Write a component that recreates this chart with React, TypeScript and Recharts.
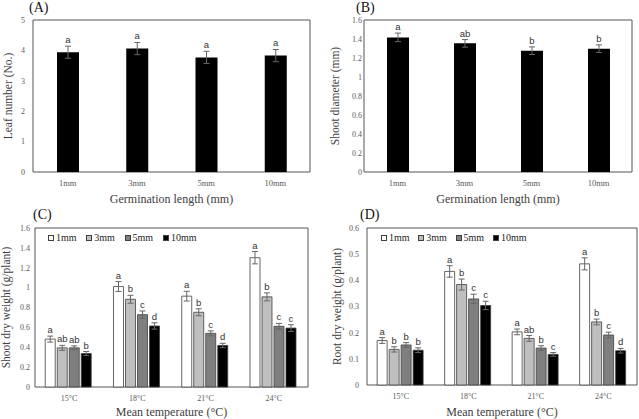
import React from 'react';
import { BarChart, Bar, XAxis, YAxis, ErrorBar, LabelList, ReferenceArea, Legend } from 'recharts';

const SERIF = '"Liberation Serif", "Times New Roman", serif';
const SANS = '"Liberation Sans", Arial, sans-serif';
const TICK_COLOR = '#595959';
const TITLE_COLOR = '#404040';
const BOX_COLOR = '#555555';

// (A) leaf number and (B) shoot diameter by germination length
const lengths = ['1mm', '3mm', '5mm', '10mm'];
const leafNumber = [3.94, 4.06, 3.77, 3.83];
const leafNumberErr = [0.2, 0.2, 0.2, 0.2];
const leafNumberLetters = ['a', 'a', 'a', 'a'];
const leafTicks = [0, 1, 2, 3, 4, 5];

const shootDiameter = [1.417, 1.354, 1.277, 1.298];
const shootDiameterErr = [0.045, 0.04, 0.04, 0.04];
const shootDiameterLetters = ['a', 'ab', 'b', 'b'];
const diameterTicks = [0, 0.2, 0.4, 0.6, 0.8, 1, 1.2, 1.4, 1.6];

// (C) shoot dry weight and (D) root dry weight by mean temperature
const temps = ['15°C', '18°C', '21°C', '24°C'];
const seriesNames = ['1mm', '3mm', '5mm', '10mm'];
const seriesFills = ['#ffffff', '#bfbfbf', '#7f7f7f', '#000000'];

const shootDry1mm = [0.482, 1.011, 0.914, 1.301];
const shootDry3mm = [0.394, 0.883, 0.752, 0.907];
const shootDry5mm = [0.394, 0.728, 0.54, 0.611];
const shootDry10mm = [0.337, 0.614, 0.418, 0.593];
const shootDry1mmErr = [0.03, 0.05, 0.049, 0.062];
const shootDry3mmErr = [0.025, 0.04, 0.035, 0.04];
const shootDry5mmErr = [0.02, 0.037, 0.025, 0.029];
const shootDry10mmErr = [0.02, 0.032, 0.022, 0.034];
const shootDry1mmLetters = ['a', 'a', 'a', 'a'];
const shootDry3mmLetters = ['ab', 'b', 'b', 'b'];
const shootDry5mmLetters = ['ab', 'c', 'c', 'c'];
const shootDry10mmLetters = ['b', 'd', 'd', 'c'];
const shootDryTicks = [0, 0.2, 0.4, 0.6, 0.8, 1, 1.2, 1.4, 1.6];

const rootDry1mm = [0.17, 0.434, 0.203, 0.463];
const rootDry3mm = [0.136, 0.384, 0.178, 0.241];
const rootDry5mm = [0.153, 0.329, 0.141, 0.191];
const rootDry10mm = [0.133, 0.304, 0.117, 0.131];
const rootDry1mmErr = [0.011, 0.022, 0.011, 0.023];
const rootDry3mmErr = [0.01, 0.021, 0.011, 0.011];
const rootDry5mmErr = [0.009, 0.018, 0.009, 0.011];
const rootDry10mmErr = [0.009, 0.016, 0.007, 0.009];
const rootDry1mmLetters = ['a', 'a', 'a', 'a'];
const rootDry3mmLetters = ['b', 'b', 'ab', 'b'];
const rootDry5mmLetters = ['b', 'c', 'b', 'c'];
const rootDry10mmLetters = ['b', 'c', 'c', 'd'];
const rootDryTicks = [0, 0.1, 0.2, 0.3, 0.4, 0.5, 0.6];

// letter sits just above the error bar; bar height / value gives px per unit
const makeLetter = (letters: string[], errs: number[]) => (props: any) => {
  const x = Number(props.x);
  const y = Number(props.y);
  const w = Number(props.width);
  const h = Number(props.height);
  const v = Number(props.value);
  const i = props.index;
  const errPx = v ? (errs[i] * h) / v : 0;
  return (
    <text
      key={`l-${i}`}
      x={x + w / 2}
      y={y - errPx - 3}
      textAnchor="middle"
      fontSize={9.5}
      fill="#333"
      fontFamily={SANS}
    >
      {letters[i]}
    </text>
  );
};

const PanelTitle = ({ text, left, top }: { text: string; left: number; top: number }) => (
  <div
    style={{
      position: 'absolute',
      left,
      top,
      fontFamily: SERIF,
      fontSize: 14,
      lineHeight: '14px',
      color: '#111',
    }}
  >
    {text}
  </div>
);

interface SingleProps {
  left: number;
  top: number;
  width: number;
  height: number;
  plotTop: number;
  plotRight: number;
  yWidth: number;
  xHeight: number;
  tickGap: number;
  values: number[];
  errs: number[];
  letters: string[];
  ticks: number[];
  yLabel: string;
  yLabelOffset: number;
  xLabel: string;
  xLabelOffset: number;
}

function SinglePanel(p: SingleProps) {
  const data = lengths.map((name, i) => ({ name, value: p.values[i], err: p.errs[i] }));
  const max = p.ticks[p.ticks.length - 1];
  return (
    <div style={{ position: 'absolute', left: p.left, top: p.top }}>
      <BarChart
        width={p.width}
        height={p.height}
        data={data}
        margin={{ top: p.plotTop, right: p.plotRight, left: 0, bottom: 0 }}
      >
        <XAxis
          dataKey="name"
          height={p.xHeight}
          tickLine={false}
          axisLine={false}
          tick={{ fontSize: 8.5, fill: TICK_COLOR, fontFamily: SERIF }}
          label={{
            value: p.xLabel,
            position: 'insideBottom',
            offset: p.xLabelOffset,
            style: { fontSize: 12, fill: TITLE_COLOR, fontFamily: SERIF },
          }}
        />
        <YAxis
          width={p.yWidth}
          domain={[0, max]}
          ticks={p.ticks}
          tickLine={false}
          axisLine={false}
          tickSize={0}
          tickMargin={p.tickGap}
          tick={{ fontSize: 8, fill: TICK_COLOR, fontFamily: SERIF }}
          label={{
            value: p.yLabel,
            angle: -90,
            position: 'insideLeft',
            offset: p.yLabelOffset,
            style: { fontSize: 11.5, fill: TITLE_COLOR, fontFamily: SERIF, textAnchor: 'middle' },
          }}
        />
        <Bar dataKey="value" fill="#000" barSize={22} isAnimationActive={false}>
          <ErrorBar dataKey="err" direction="y" width={3} stroke="#666" strokeWidth={1} />
          <LabelList dataKey="value" content={makeLetter(p.letters, p.errs)} />
        </Bar>
        <ReferenceArea y1={0} y2={max} fill="none" stroke={BOX_COLOR} strokeWidth={1} fillOpacity={0} />
      </BarChart>
    </div>
  );
}

interface GroupedProps {
  left: number;
  top: number;
  width: number;
  height: number;
  plotTop: number;
  plotRight: number;
  yWidth: number;
  xHeight: number;
  tickGap: number;
  series: number[][];
  errs: number[][];
  letters: string[][];
  ticks: number[];
  yLabel: string;
  yLabelOffset: number;
  xLabel: string;
  xLabelOffset: number;
  legendLeft: number;
  legendTop: number;
  legendItemWidth: number;
}

function GroupedPanel(p: GroupedProps) {
  const data = temps.map((name, i) => {
    const row: Record<string, string | number> = { name };
    seriesNames.forEach((s, k) => {
      row[`s${k}`] = p.series[k][i];
      row[`e${k}`] = p.errs[k][i];
    });
    return row;
  });
  const max = p.ticks[p.ticks.length - 1];

  const renderLegend = () => (
    <div style={{ display: 'flex', fontFamily: SERIF, fontSize: 10, color: '#222', whiteSpace: 'nowrap' }}>
      {seriesNames.map((s, k) => (
        <div key={s} style={{ display: 'flex', alignItems: 'center', width: p.legendItemWidth }}>
          <span
            style={{
              display: 'inline-block',
              width: 4,
              height: 4,
              background: seriesFills[k],
              border: '1px solid #404040',
              marginRight: 2,
            }}
          />
          <span style={{ fontFamily: SERIF }}>{s}</span>
        </div>
      ))}
    </div>
  );

  return (
    <div style={{ position: 'absolute', left: p.left, top: p.top }}>
      <BarChart
        width={p.width}
        height={p.height}
        data={data}
        margin={{ top: p.plotTop, right: p.plotRight, left: 0, bottom: 0 }}
        barCategoryGap="15%"
        barGap={2}
      >
        <XAxis
          dataKey="name"
          height={p.xHeight}
          tickLine={false}
          axisLine={false}
          tick={{ fontSize: 8, fill: TICK_COLOR, fontFamily: SERIF }}
          label={{
            value: p.xLabel,
            position: 'insideBottom',
            offset: p.xLabelOffset,
            style: { fontSize: 12, fill: TITLE_COLOR, fontFamily: SERIF },
          }}
        />
        <YAxis
          width={p.yWidth}
          domain={[0, max]}
          ticks={p.ticks}
          tickLine={false}
          axisLine={false}
          tickSize={0}
          tickMargin={p.tickGap}
          tick={{ fontSize: 8, fill: TICK_COLOR, fontFamily: SERIF }}
          label={{
            value: p.yLabel,
            angle: -90,
            position: 'insideLeft',
            offset: p.yLabelOffset,
            style: { fontSize: 11.5, fill: TITLE_COLOR, fontFamily: SERIF, textAnchor: 'middle' },
          }}
        />
        <Legend
          layout="vertical"
          verticalAlign="middle"
          align="center"
          wrapperStyle={{ left: p.legendLeft, top: p.legendTop, width: 'auto' }}
          content={renderLegend}
        />
        {seriesNames.map((s, k) => (
          <Bar
            key={s}
            dataKey={`s${k}`}
            name={s}
            fill={seriesFills[k]}
            stroke="#404040"
            strokeWidth={0.8}
            isAnimationActive={false}
          >
            <ErrorBar dataKey={`e${k}`} direction="y" width={3} stroke="#666" strokeWidth={1} />
            <LabelList dataKey={`s${k}`} content={makeLetter(p.letters[k], p.errs[k])} />
          </Bar>
        ))}
        <ReferenceArea y1={0} y2={max} fill="none" stroke={BOX_COLOR} strokeWidth={1} fillOpacity={0} />
      </BarChart>
    </div>
  );
}

export default function App() {
  return (
    <div
      style={{
        position: 'absolute',
        left: 0,
        top: 0,
        width: 639,
        height: 419,
        background: '#fff',
        overflow: 'hidden',
      }}
    >
      <SinglePanel
        left={0}
        top={0}
        width={320}
        height={210}
        plotTop={20}
        plotRight={10}
        yWidth={33}
        xHeight={38}
        tickGap={8}
        values={leafNumber}
        errs={leafNumberErr}
        letters={leafNumberLetters}
        ticks={leafTicks}
        yLabel="Leaf number (No.)"
        yLabelOffset={8}
        xLabel="Germination length (mm)"
        xLabelOffset={7}
      />
      <SinglePanel
        left={320}
        top={0}
        width={319}
        height={210}
        plotTop={20}
        plotRight={7}
        yWidth={44}
        xHeight={38}
        tickGap={2}
        values={shootDiameter}
        errs={shootDiameterErr}
        letters={shootDiameterLetters}
        ticks={diameterTicks}
        yLabel="Shoot diameter (mm)"
        yLabelOffset={15}
        xLabel="Germination length (mm)"
        xLabelOffset={7}
      />
      <GroupedPanel
        left={0}
        top={205}
        width={320}
        height={214}
        plotTop={23}
        plotRight={12}
        yWidth={35}
        xHeight={32}
        tickGap={5}
        series={[shootDry1mm, shootDry3mm, shootDry5mm, shootDry10mm]}
        errs={[shootDry1mmErr, shootDry3mmErr, shootDry5mmErr, shootDry10mmErr]}
        letters={[shootDry1mmLetters, shootDry3mmLetters, shootDry5mmLetters, shootDry10mmLetters]}
        ticks={shootDryTicks}
        yLabel="Shoot dry weight (g/plant)"
        yLabelOffset={6}
        xLabel="Mean temperature (°C)"
        xLabelOffset={3}
        legendLeft={48}
        legendTop={27}
        legendItemWidth={38.3}
      />
      <GroupedPanel
        left={320}
        top={205}
        width={319}
        height={214}
        plotTop={23}
        plotRight={2}
        yWidth={47}
        xHeight={34}
        tickGap={8}
        series={[rootDry1mm, rootDry3mm, rootDry5mm, rootDry10mm]}
        errs={[rootDry1mmErr, rootDry3mmErr, rootDry5mmErr, rootDry10mmErr]}
        letters={[rootDry1mmLetters, rootDry3mmLetters, rootDry5mmLetters, rootDry10mmLetters]}
        ticks={rootDryTicks}
        yLabel="Root dry weight (g/plant)"
        yLabelOffset={17}
        xLabel="Mean temperature (°C)"
        xLabelOffset={3}
        legendLeft={61}
        legendTop={27}
        legendItemWidth={37.3}
      />
      <PanelTitle text="(A)" left={29} top={1} />
      <PanelTitle text="(B)" left={356} top={1} />
      <PanelTitle text="(C)" left={33} top={208} />
      <PanelTitle text="(D)" left={360} top={208} />
    </div>
  );
}
